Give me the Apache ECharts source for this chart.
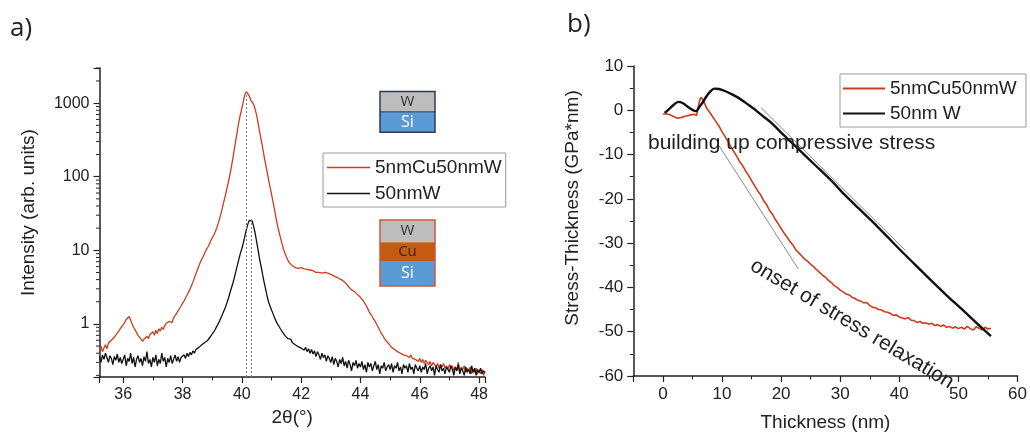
<!DOCTYPE html>
<html><head><meta charset="utf-8">
<script src="https://cdn.jsdelivr.net/npm/echarts@6/dist/echarts.min.js"></script>
<style>html,body{margin:0;padding:0;background:#fff}#c{width:1030px;height:437px}</style>
</head><body><div id="c"></div>
<script>
// ---------- Panel a: XRD (2theta sampled from 35.20 in 0.05 deg steps) ----------
const TT_START = 35.2, TT_STEP = 0.05;
const intensityCuW = [
 0.45,0.50,0.42,0.47,0.52,0.46,0.55,0.52,0.60,0.58,0.66,0.70,0.75,0.80,0.86,0.92,
 0.98,1.05,1.15,1.22,1.26,1.12,1.00,0.90,0.83,0.76,0.70,0.66,0.62,0.58,0.62,0.60,0.68,0.63,0.72,0.70,
 0.78,0.70,0.82,0.74,0.86,0.80,0.90,0.84,0.95,1.02,0.96,1.08,1.12,1.05,1.22,1.30,1.38,1.50,1.62,1.75,
 1.90,2.05,2.25,2.45,2.70,2.95,3.30,3.70,4.20,4.80,5.40,6.10,6.90,7.60,8.30,9.20,10.2,11.0,12.0,13.5,
 14.8,16.0,17.8,20.0,23.0,27.0,32.0,39.0,47.0,57.0,70.0,86.0,108,138,180,240,320,420,560,700,
 850,1050,1300,1430,1380,1250,1100,1050,960,820,680,530,410,320,250,190,150,118,92,73,
 58,46,36,28,22,18,15,12.5,10.5,9.2,8.2,7.4,6.8,6.6,6.2,6.0,5.8,6.0,5.7,5.6,
 5.8,5.5,5.6,5.3,5.5,5.2,5.4,5.1,5.3,5.2,5.0,5.2,5.0,5.1,4.9,5.1,5.0,5.2,4.9,5.0,
 4.7,4.8,4.5,4.6,4.3,4.4,4.1,4.2,3.9,3.8,3.6,3.5,3.2,3.1,2.9,2.8,2.75,2.65,2.5,2.4,
 2.3,2.2,2.05,1.9,1.75,1.6,1.45,1.35,1.25,1.15,1.08,0.98,0.90,0.82,0.75,0.70,0.64,0.60,0.58,0.54,
 0.52,0.48,0.50,0.45,0.46,0.42,0.44,0.40,0.42,0.38,0.40,0.37,0.39,0.35,0.38,0.34,0.36,0.33,0.35,0.31,
 0.34,0.30,0.33,0.29,0.32,0.30,0.28,0.31,0.27,0.30,0.28,0.26,0.29,0.25,0.28,0.26,0.29,0.25,0.27,0.24,
 0.28,0.25,0.27,0.23,0.26,0.24,0.30,0.22,0.26,0.24,0.27,0.22,0.25,0.23,0.26,0.21,0.24,0.22,0.25,0.21,
 0.23,0.21,0.24,0.20,0.22
];
const intensityW = [
 0.36,0.30,0.38,0.33,0.40,0.35,0.30,0.37,0.34,0.28,0.36,0.32,0.39,0.30,0.35,0.29,
 0.33,0.38,0.27,0.34,0.31,0.40,0.29,0.35,0.26,0.33,0.37,0.30,0.34,0.27,0.36,0.31,0.42,0.29,0.33,0.26,
 0.35,0.30,0.38,0.27,0.33,0.29,0.40,0.31,0.35,0.26,0.34,0.30,0.37,0.29,0.33,0.38,0.31,0.36,0.30,0.35,
 0.33,0.38,0.34,0.40,0.36,0.41,0.38,0.43,0.40,0.45,0.43,0.48,0.47,0.52,0.50,0.56,0.55,0.60,0.62,0.68,
 0.72,0.78,0.84,0.92,1.00,1.10,1.22,1.36,1.52,1.70,1.95,2.25,2.65,3.10,3.60,4.30,5.20,6.30,7.60,9.10,
 10.5,12.5,15.5,19.0,22.5,25.5,26.5,25.0,21.0,17.0,13.0,10.0,7.6,6.0,4.7,3.7,3.0,2.4,2.0,1.75,
 1.55,1.38,1.22,1.10,1.00,0.93,0.86,0.80,0.76,0.70,0.67,0.63,0.60,0.62,0.56,0.58,0.52,0.55,0.49,0.52,
 0.47,0.50,0.44,0.48,0.42,0.46,0.40,0.45,0.39,0.43,0.36,0.42,0.38,0.33,0.40,0.35,0.38,0.31,0.37,0.34,
 0.30,0.36,0.28,0.34,0.31,0.26,0.33,0.29,0.35,0.27,0.31,0.25,0.32,0.28,0.23,0.30,0.27,0.32,0.25,0.29,
 0.26,0.31,0.24,0.28,0.22,0.30,0.26,0.29,0.23,0.27,0.31,0.24,0.28,0.21,0.27,0.25,0.30,0.23,0.26,0.28,
 0.24,0.29,0.22,0.27,0.25,0.30,0.23,0.26,0.21,0.28,0.25,0.27,0.22,0.29,0.24,0.26,0.21,0.28,0.25,0.23,
 0.27,0.22,0.26,0.24,0.29,0.21,0.25,0.27,0.23,0.26,0.20,0.27,0.24,0.22,0.28,0.23,0.25,0.21,0.26,0.24,
 0.22,0.27,0.24,0.20,0.26,0.23,0.28,0.21,0.25,0.23,0.20,0.26,0.22,0.24,0.21,0.27,0.22,0.25,0.20,0.24,
 0.22,0.25,0.21,0.23,0.22
];
const peakPositions = [40.14, 40.31];
const peakHeights = [1430, 26.5];
const logMajorLabels = [1, 10, 100, 1000];
const logMinorTicks = [0.2,0.3,0.4,0.5,0.6,0.7,0.8,0.9,2,3,4,5,6,7,8,9,20,30,40,50,60,70,80,90,200,300,400,500,600,700,800,900,2000,3000];

// ---------- Panel b: stress-thickness ----------
const thicknessCuW = [0.0,0.6,1.2,1.8,2.5,3.2,3.9,4.6,5.3,5.7,6.1,6.4,6.8,7.4,8.0,8.9,
 9.5,10.0,10.5,11.0,11.5,12.0,12.5,13.0,13.5,14.0,14.5,15.0,15.5,16.0,16.5,17.0,17.5,18.0,18.5,19.0,19.5,20.0,
 20.5,21.0,21.5,22.0,22.5,23.0,23.5,24.0,24.5,25.0,25.5,26.0,26.5,27.0,27.5,28.0,28.5,29.0,29.5,30.0,
 30.5,31.0,31.5,32.0,32.5,33.0,33.5,34.0,34.5,35.0,35.5,36.0,36.5,37.0,37.5,38.0,38.5,39.0,39.5,40.0,
 40.5,41.0,41.5,42.0,42.5,43.0,43.5,44.0,44.5,45.0,45.5,46.0,46.5,47.0,47.5,48.0,48.5,49.0,49.5,50.0,
 50.5,51.0,51.5,52.0,52.5,53.0,53.5,54.0,54.5,55.0,55.5];
const stressCuW = [-0.9,-0.8,-1.0,-1.4,-1.8,-1.6,-1.3,-1.1,-0.9,-1.2,1.6,2.9,2.4,0.5,-0.6,-2.4,
 -3.6,-4.8,-5.9,-7.0,-8.2,-9.3,-10.4,-11.6,-12.5,-13.7,-14.7,-15.9,-17.0,-18.1,-19.0,-20.3,-21.2,-22.5,-23.4,-24.6,-25.6,-26.7,
 -27.7,-28.6,-29.6,-30.4,-31.5,-32.2,-32.9,-33.6,-34.1,-34.8,-35.3,-36.0,-36.6,-37.2,-37.7,-38.4,-38.9,-39.6,-40.0,-40.6,
 -41.0,-41.5,-41.7,-42.2,-42.5,-42.9,-43.1,-43.5,-43.4,-44.1,-44.5,-44.6,-45.0,-45.1,-45.5,-45.6,-45.9,-46.3,-46.2,-46.7,
 -46.9,-47.1,-46.8,-47.4,-47.5,-47.9,-47.7,-48.1,-48.0,-48.3,-48.1,-48.6,-48.4,-48.8,-48.5,-49.0,-48.8,-49.2,-48.9,-49.3,
 -49.0,-49.4,-48.8,-49.3,-49.6,-48.9,-49.2,-49.6,-49.0,-49.4,-49.2];
const thicknessW = [0.3,1.0,1.8,2.6,3.4,4.2,5.0,5.6,6.2,6.7,7.3,8.0,8.7,9.5,10.6,11.7,12.8,14.2,15.6,17.0,18.4,20.6,22.9,25.7,28.5,30.7,33.0,35.5,38.0,40.2,42.7,45.2,48.0,50.8,53.2,55.5];
const stressW = [-0.6,0.2,1.2,1.9,1.6,0.8,0.1,-0.2,0.8,1.7,3.0,4.2,4.9,4.8,4.3,3.6,2.8,1.5,0.15,-1.4,-2.9,-5.8,-8.7,-12.3,-15.9,-19.0,-22.0,-25.2,-28.6,-31.6,-34.9,-38.2,-41.8,-45.2,-48.2,-51.0];

const RED = '#cf3b1c', BLK = '#111111', AX = '#222222';
const FONT = '"Liberation Sans", Arial, sans-serif';
const FONT2 = '"Open Sans", "Noto Sans", sans-serif';

const xrdCuW = intensityCuW.map((v, i) => [+(TT_START + i * TT_STEP).toFixed(2), v]);
const xrdW = intensityW.map((v, i) => [+(TT_START + i * TT_STEP).toFixed(2), v]);
const stCuW = thicknessCuW.map((t, i) => [t, stressCuW[i]]);
const stW = thicknessW.map((t, i) => [t, stressW[i]]);

const axisCommon = {
  axisLine: {onZero: false, lineStyle: {color: AX, width: 1.5}},
  axisTick: {inside: false, length: 6, lineStyle: {color: AX, width: 1.2}},
  minorTick: {show: true, splitNumber: 2, length: 3.5, lineStyle: {color: AX, width: 1}},
  splitLine: {show: false},
  minorSplitLine: {show: false}
};

const option = {
  animation: false,
  backgroundColor: '#fff',
  textStyle: {fontFamily: FONT},
  grid: [
    {left: 99.5, top: 68, width: 385.5, height: 309},
    {left: 633.3, top: 66, width: 388.4, height: 314}
  ],
  xAxis: [
    Object.assign({}, axisCommon, {
      gridIndex: 0, type: 'value', min: 35.2, max: 48.2, splitNumber: 6,
      axisLabel: {color: AX, fontSize: 16, margin: 10, showMinLabel: false, showMaxLabel: false, fontFamily: FONT},
      name: '2θ(°)', nameLocation: 'middle', nameGap: 31,
      nameTextStyle: {color: AX, fontSize: 19, fontFamily: FONT}
    }),
    Object.assign({}, axisCommon, {
      gridIndex: 1, type: 'value', min: -5, max: 60, splitNumber: 6,
      axisLabel: {color: AX, fontSize: 17, margin: 10, showMinLabel: false, fontFamily: FONT},
      name: 'Thickness (nm)', nameLocation: 'middle', nameGap: 37,
      nameTextStyle: {color: AX, fontSize: 19, fontFamily: FONT}
    })
  ],
  yAxis: [
    Object.assign({}, axisCommon, {
      gridIndex: 0, type: 'log', min: 0.19, max: 3000, logBase: 10,
      minorTick: {show: false},
      axisLabel: {color: AX, fontSize: 16, margin: 10, fontFamily: FONT,
        formatter: v => logMajorLabels.some(m => Math.abs(m - v) / m < 1e-6) ? String(Math.round(v)) : ''},
      name: 'Intensity (arb. units)', nameLocation: 'middle', nameGap: 61,
      nameTextStyle: {color: AX, fontSize: 19, fontFamily: FONT, padding: [0, 0, 0, 20]}
    }),
    Object.assign({}, axisCommon, {
      gridIndex: 1, type: 'value', min: -60, max: 10, interval: 10,
      axisLabel: {color: AX, fontSize: 17, margin: 10, fontFamily: FONT},
      name: 'Stress-Thickness (GPa*nm)', nameLocation: 'middle', nameGap: 51,
      nameTextStyle: {color: AX, fontSize: 19, fontFamily: FONT, padding: [0, 0, 0, 26]}
    })
  ],
  legend: [
    {
      data: ['5nmCu50nmW', '50nmW'], orient: 'vertical', left: 323, top: 153,
      padding: [5, 4, 4, 4], itemGap: 7, itemWidth: 43, itemHeight: 1.5, icon: 'rect',
      backgroundColor: '#fff', borderColor: '#9a9a9a', borderWidth: 1, borderRadius: 0,
      textStyle: {fontSize: 19, color: AX, fontFamily: FONT, lineHeight: 17}, selectedMode: false
    },
    {
      data: ['5nmCu50nmW ', '50nm W'], orient: 'vertical', left: 840, top: 74,
      padding: [5, 4, 4, 3], itemGap: 6, itemWidth: 42, itemHeight: 2.2, icon: 'rect',
      backgroundColor: '#fff', borderColor: '#9a9a9a', borderWidth: 1, borderRadius: 0,
      textStyle: {fontSize: 19, color: AX, fontFamily: FONT, lineHeight: 17}, selectedMode: false
    }
  ],
  series: [
    {
      name: '5nmCu50nmW', type: 'line', xAxisIndex: 0, yAxisIndex: 0, data: xrdCuW,
      symbol: 'none', lineStyle: {color: RED, width: 1.3}, itemStyle: {color: RED}, z: 3,
      markLine: {
        silent: true, symbol: 'none', label: {show: false},
        lineStyle: {type: [2, 2], color: '#777', width: 1},
        data: peakPositions.map((p, i) => [{coord: [p, 0.19]}, {coord: [p, peakHeights[i]]}])
      }
    },
    {
      name: '50nmW', type: 'line', xAxisIndex: 0, yAxisIndex: 0, data: xrdW,
      symbol: 'none', lineStyle: {color: BLK, width: 1.3}, itemStyle: {color: BLK}, z: 4
    },
    {
      type: 'custom', xAxisIndex: 0, yAxisIndex: 0, silent: true, clip: false, z: 6,
      data: logMinorTicks.map(v => [35.2, v]),
      renderItem: (params, api) => {
        const p = api.coord([api.value(0), api.value(1)]);
        return {type: 'line', shape: {x1: p[0] - 3.5, y1: p[1], x2: p[0], y2: p[1]},
          style: {stroke: AX, lineWidth: 1}};
      }
    },
    {
      name: '5nmCu50nmW ', type: 'line', xAxisIndex: 1, yAxisIndex: 1, data: stCuW,
      symbol: 'none', lineStyle: {color: RED, width: 1.6}, itemStyle: {color: RED}, z: 3
    },
    {
      name: '50nm W', type: 'line', xAxisIndex: 1, yAxisIndex: 1, data: stW,
      symbol: 'none', smooth: 0.3, lineStyle: {color: BLK, width: 2.4}, itemStyle: {color: BLK}, z: 4,
      markLine: {
        silent: true, symbol: ['none', 'arrow'], symbolSize: [0, 7], label: {show: false},
        lineStyle: {type: 'solid', color: '#8a8a8a', width: 1},
        data: [
          [{coord: [16.6, 0.6]}, {coord: [41.0, -31.6]}],
          [{coord: [9.5, -8.0]}, {coord: [22.9, -35.8]}]
        ]
      }
    }
  ],
  graphic: [
    {type: 'text', left: 10, top: 16, style: {text: 'a)', font: '26px ' + FONT2, fill: '#222'}},
    {type: 'text', left: 567, top: 12, style: {text: 'b)', font: '26px ' + FONT2, fill: '#222'}},
    // W / Si stack
    {type: 'rect', shape: {x: 380, y: 91.5, width: 55, height: 20.3}, style: {fill: '#bdbdbd', stroke: null}},
    {type: 'rect', shape: {x: 380, y: 111.8, width: 55, height: 20.5}, style: {fill: '#5b9bd5', stroke: null}},
    {type: 'rect', shape: {x: 380, y: 91.5, width: 55, height: 40.8}, style: {fill: null, stroke: '#2e3d52', lineWidth: 1.5}},
    {type: 'line', shape: {x1: 380, y1: 111.8, x2: 435, y2: 111.8}, style: {stroke: '#2e3d52', lineWidth: 1}},
    {type: 'text', x: 407.5, y: 101.6, style: {text: 'W', font: '15px ' + FONT2, fill: '#333', align: 'center', verticalAlign: 'middle'}},
    {type: 'text', x: 407.5, y: 122, style: {text: 'Si', font: '16px ' + FONT2, fill: '#fff', align: 'center', verticalAlign: 'middle'}},
    // W / Cu / Si stack
    {type: 'rect', shape: {x: 380, y: 220, width: 55, height: 22.3}, style: {fill: '#bdbdbd', stroke: null}},
    {type: 'rect', shape: {x: 380, y: 242.3, width: 55, height: 18.7}, style: {fill: '#c55a11', stroke: null}},
    {type: 'rect', shape: {x: 380, y: 261, width: 55, height: 25}, style: {fill: '#5b9bd5', stroke: null}},
    {type: 'rect', shape: {x: 380, y: 220, width: 55, height: 66}, style: {fill: null, stroke: '#d0583a', lineWidth: 1.5}},
    {type: 'text', x: 407.5, y: 231, style: {text: 'W', font: '15px ' + FONT2, fill: '#333', align: 'center', verticalAlign: 'middle'}},
    {type: 'text', x: 407.5, y: 251.6, style: {text: 'Cu', font: '15px ' + FONT2, fill: '#3a2418', align: 'center', verticalAlign: 'middle'}},
    {type: 'text', x: 407.5, y: 273.5, style: {text: 'Si', font: '16px ' + FONT2, fill: '#fff', align: 'center', verticalAlign: 'middle'}},
    // annotations panel b
    {type: 'text', x: 648, y: 143, z: 10, style: {text: 'building up compressive stress', font: '21px ' + FONT, fill: '#222', align: 'left', verticalAlign: 'middle'}},
    {type: 'text', x: 852, y: 324, rotation: -0.54, z: 10, style: {text: 'onset of stress relaxation', font: '21px ' + FONT, fill: '#222', align: 'center', verticalAlign: 'middle'}}
  ]
};

const chart = echarts.init(document.getElementById('c'), null, {renderer: 'canvas'});
chart.setOption(option);
</script>
</body></html>
